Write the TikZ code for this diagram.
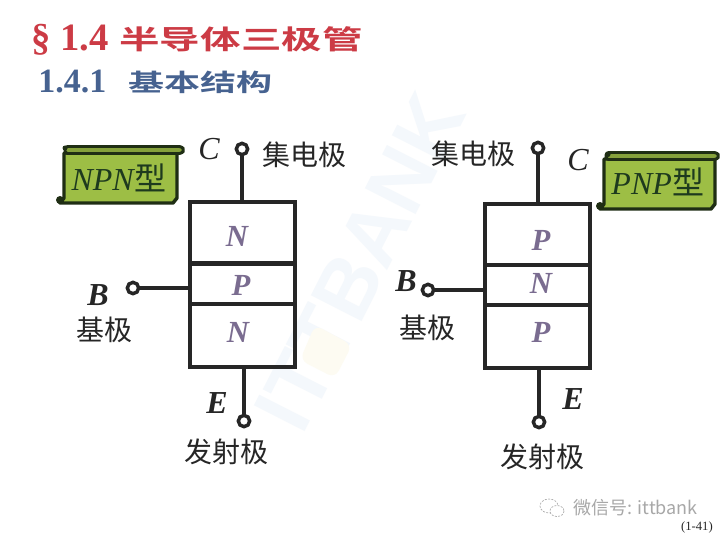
\documentclass[tikz,border=0pt]{standalone}
\usepackage{fontspec}
\setmainfont{Liberation Serif}
\newfontfamily\cjk{Noto Sans CJK SC}
\newfontfamily\cjkb{Noto Sans CJK SC Bold}
\newfontfamily\uisans{Liberation Sans}
\newcommand\pxf[1]{\fontsize{#1}{#1}\selectfont}
\definecolor{inkc}{HTML}{262626}
\definecolor{redt}{HTML}{CC3B45}
\definecolor{bluet}{HTML}{466290}
\definecolor{layert}{HTML}{7A6C90}
\definecolor{scrollg}{HTML}{9DBE45}
\definecolor{scrollb}{HTML}{1F2E14}
\definecolor{scrollt}{HTML}{1E3A1E}
\definecolor{wmark}{HTML}{F4F8FC}
\definecolor{wmarky}{HTML}{FDFBF2}
\definecolor{wechatg}{HTML}{A8A8A8}
\tikzset{
  layerbox/.style={draw=inkc,line width=3pt,fill=none,inner sep=0pt},
  layern/.style={font=\pxf{23}\itshape\bfseries,text=layert,inner sep=0pt},
  term/.style={circle,draw=inkc,line width=2.6pt,fill=white,minimum size=8.5pt,inner sep=0pt},
  wire/.style={draw=inkc,line width=2.6pt},
  pin/.style={font=\pxf{24}\itshape\bfseries,text=inkc,inner sep=0pt},
  pinc/.style={font=\pxf{24}\itshape,text=inkc,inner sep=0pt},
  cn/.style={font=\cjk\pxf{21},text=inkc,inner sep=0pt},
  scrollbody/.style={fill=scrollg,draw=scrollb,line width=2.6pt,line join=round},
  scrolltop/.style={fill=scrollg!85!black,draw=scrollb,line width=2.2pt,line join=round,rounded corners=2pt},
  scrolltext/.style={font=\pxf{24}\itshape,text=scrollt,inner sep=0pt},
}
\begin{document}
\begin{tikzpicture}[x=0.75pt,y=-0.75pt]
\useasboundingbox (0,0) rectangle (720,540);
\fill[white] (0,0) rectangle (720,540);
% watermark
\node[rotate=63,font=\uisans\bfseries\pxf{62},text=wmark,inner sep=0pt] (wm) at (360,262) {ITTBANK};
\fill[wmarky,rounded corners=6pt] (315,325) -- (352,345) -- (335,378) -- (300,360) -- cycle;
% titles
\node[anchor=west,font=\bfseries\pxf{29},text=redt,inner sep=0pt] (t1) at (31,40) {§ 1.4};
\node[anchor=west,font=\cjkb\pxf{20},text=redt,inner sep=0pt,xscale=1.52,transform shape] (t1c) at (119,39) {半导体三极管};
\node[anchor=west,font=\bfseries\pxf{25.5},text=bluet,inner sep=0pt] (t2) at (38,82) {1.4.1};
\node[anchor=west,font=\cjkb\pxf{18},text=bluet,inner sep=0pt,xscale=1.5,transform shape] (t2c) at (128,82) {基本结构};
% left scroll
\path[scrollbody] (64,153) -- (177,153) -- (177,198) -- (173,203) -- (60,203) -- (64,198) -- cycle;
\path[scrolltop] (65,146.5) -- (182,146.5) -- (184,150) -- (182,153.5) -- (65,153.5) -- cycle;
\fill[scrollb] (60,200) circle[radius=4];
\fill[scrollb] (65,148) circle[radius=2.5];
\node[scrolltext] (npn) at (119,178) {NPN\hspace{0.5pt}{\upshape\cjk 型}};
% right scroll
\path[scrollbody] (604,159) -- (715,159) -- (715,204) -- (711,209) -- (600,209) -- (604,204) -- cycle;
\path[scrolltop] (606,152.5) -- (717,152.5) -- (719,156) -- (717,159.5) -- (606,159.5) -- cycle;
\fill[scrollb] (600,206) circle[radius=4];
\fill[scrollb] (608,154.5) circle[radius=2.5];
\node[scrolltext] (pnp) at (658,182) {PNP\hspace{0.5pt}{\upshape\cjk 型}};
% left transistor
\node[layerbox,minimum width=78.5pt,minimum height=46.5pt] (n1) at (242.5,232.5) {};
\node[layerbox,minimum width=78.5pt,minimum height=30.75pt] (n2) at (242.5,283.5) {};
\node[layerbox,minimum width=78.5pt,minimum height=47.25pt] (n3) at (242.5,335.5) {};
\node[layern] (n1t) at (237,236) {N};
\node[layern] (n2t) at (241,285) {P};
\node[layern] (n3t) at (238,332) {N};
\node[term] (lc) at (242,149) {};
\node[term] (lb) at (133,288) {};
\node[term] (le) at (244,421) {};
\draw[wire] (lc) -- (lc |- n1.north);
\draw[wire] (lb) -- (lb -| n2.west);
\draw[wire] (le) -- (le |- n3.south);
\node[pinc] (lct) at (209,149) {C};
\node[pin] (lbt) at (98,295) {B};
\node[pin] (let) at (217,403) {E};
\node[cn] (lcn) at (304,155) {集电极};
\node[cn] (lbn) at (104,330) {基极};
\node[cn] (len) at (226,452) {发射极};
% right transistor
\node[layerbox,minimum width=78.75pt,minimum height=45.75pt] (p1) at (537.5,234.5) {};
\node[layerbox,minimum width=78.75pt,minimum height=30pt] (p2) at (537.5,285) {};
\node[layerbox,minimum width=78.75pt,minimum height=47.25pt] (p3) at (537.5,336.5) {};
\node[layern] (p1t) at (541,240) {P};
\node[layern] (p2t) at (541,283) {N};
\node[layern] (p3t) at (541,332) {P};
\node[term] (rc) at (538,148) {};
\node[term] (rb) at (428,290) {};
\node[term] (re) at (539,422) {};
\draw[wire] (rc) -- (rc |- p1.north);
\draw[wire] (rb) -- (rb -| p2.west);
\draw[wire] (re) -- (re |- p3.south);
\node[pinc] (rct) at (578,160) {C};
\node[pin] (rbt) at (406,281) {B};
\node[pin] (ret) at (573,399) {E};
\node[cn] (rcn) at (473,154) {集电极};
\node[cn] (rbn) at (427,328) {基极};
\node[cn] (ren) at (542,457) {发射极};
% footer
\draw[wechatg,line width=0.5pt,dash pattern=on 1.5pt off 1pt] (549,506) ellipse[x radius=9,y radius=7];
\draw[wechatg,line width=0.5pt,dash pattern=on 1.5pt off 1pt,fill=white] (557,511) ellipse[x radius=7,y radius=5.5];
\node[anchor=west,font=\cjk\pxf{13.5},text=wechatg,inner sep=0pt] (wx) at (573,508) {微信号: ittbank};
\node[anchor=east,font=\pxf{9.5},text=inkc,inner sep=0pt] (pg) at (713,527) {(1-41)};
\end{tikzpicture}
\end{document}
